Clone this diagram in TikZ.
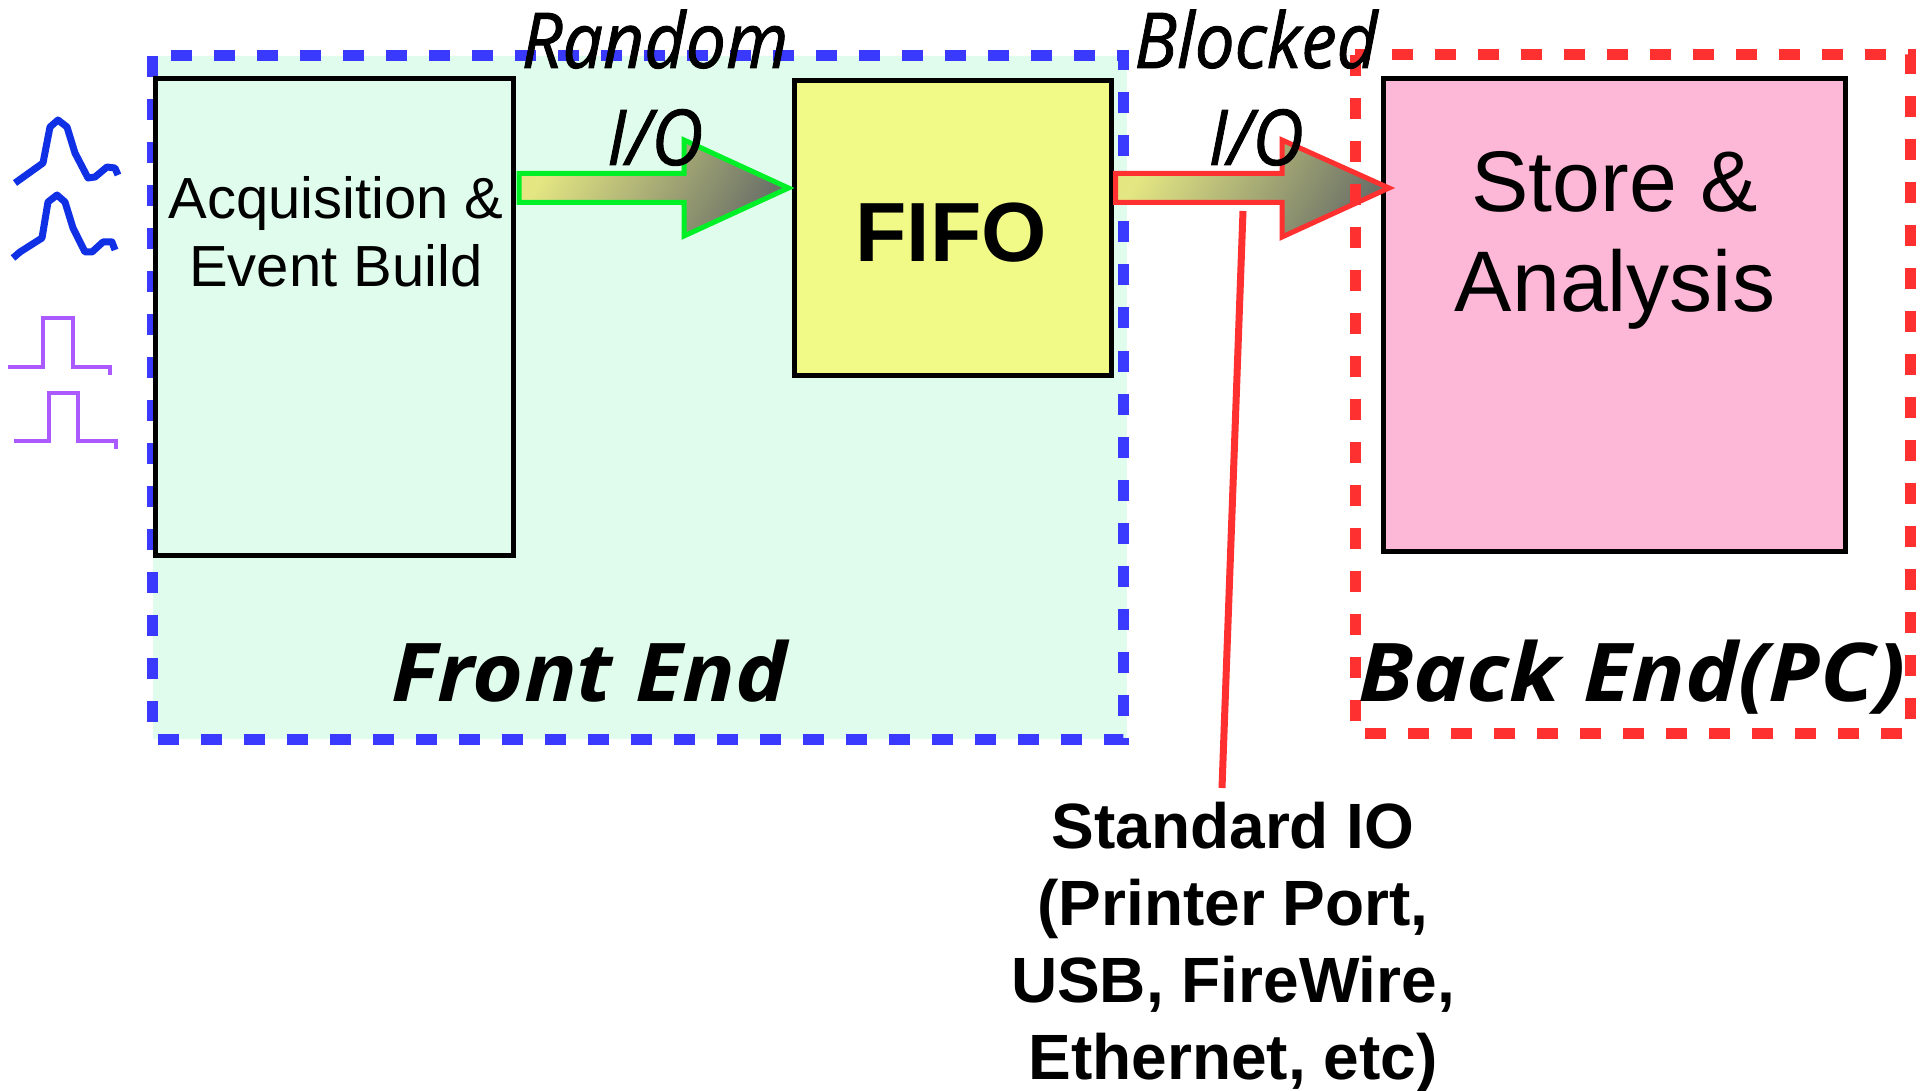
\documentclass[tikz,border=0pt]{standalone}
\usepackage{fontspec}
\usetikzlibrary{calc}
\setmainfont{Liberation Sans}
\newfontfamily\gillit{Open Sans}[UprightFont=*-Italic, FakeBold=1.2]
\newfontfamily\gillbi{Open Sans}[UprightFont=*-Bold Italic]
\definecolor{feBg}{RGB}{224,252,236}
\definecolor{feBlue}{RGB}{58,58,255}
\definecolor{beRed}{RGB}{255,48,48}
\definecolor{fifoY}{RGB}{241,250,134}
\definecolor{pinkS}{RGB}{253,184,216}
\definecolor{arrL}{RGB}{228,230,130}
\definecolor{arrD}{RGB}{108,114,104}
\definecolor{gOut}{RGB}{0,240,40}
\definecolor{waveB}{RGB}{16,48,230}
\definecolor{waveP}{RGB}{170,90,255}
\begin{document}
\begin{tikzpicture}[x=1pt,y=-1pt,
  box/.style={draw=black, line width=5pt, inner sep=0pt},
  region/.style={line width=11pt, dash pattern=on 21pt off 22pt},
  blockarrow/.style={line width=5pt, line join=miter, left color=arrL, right color=arrD, shading angle=60},
  txt/.style={inner sep=0pt, anchor=base, align=center},
  blueWave/.style={draw=waveB, line width=7pt, line join=round},
  pulse/.style={draw=waveP, line width=4.5pt},
  tap/.style={draw=beRed, line width=7pt}]
\useasboundingbox (0,0) rectangle (1928,1091);
\fill[white] (0,0) rectangle (1928,1091);

% front end region
\fill[feBg] (152.5,56) rectangle (1127,739);
\draw[region, draw=feBlue] (152.5,56) rectangle (1123,739);

% boxes
\node[box, fill=feBg, minimum width=358pt, minimum height=476pt] (acq) at (334.5,317) {};
\node[box, fill=fifoY, minimum width=317pt, minimum height=294pt] (fifo) at (952.5,228) {};
\node[box, fill=pinkS, minimum width=462pt, minimum height=472pt] (store) at (1614,315) {};

% signals
\draw[blueWave] (15,183) -- (22,178) -- (43,163) -- (50,127) -- (58,120) -- (67,127) -- (75,153) -- (88,178) -- (95,177) -- (107,167) -- (115,168) -- (118,175);
\draw[blueWave] (13,258) -- (20,252) -- (42,238) -- (48,202) -- (57,195) -- (65,202) -- (73,228) -- (85,252) -- (92,252) -- (103,242) -- (112,242) -- (115,250);
\draw[pulse] (8,367) -- (43,367) -- (43,318) -- (73,318) -- (73,367) -- (110,367) -- (110,375);
\draw[pulse] (14,441) -- (49,441) -- (49,393) -- (78,393) -- (78,441) -- (116,441) -- (116,449);

% block arrows
\coordinate (g0) at (acq.east |- 0,188);
\coordinate (gT) at (fifo.west |- 0,188);
\path[blockarrow, draw=gOut] ($(g0)+(3,-14.5)$) -- (684,173.5) -- (684,140) -- ($(gT)+(-3,0)$) -- (684,236) -- (684,202.5) -- ($(g0)+(3,14.5)$) -- cycle;

\coordinate (r0) at (fifo.east |- 0,188);
\coordinate (rT) at (1389,188);
\path[blockarrow, draw=beRed] ($(r0)+(2,-14.5)$) -- (1282,173.5) -- (1282,140) -- (rT) -- (1282,237) -- (1282,202.5) -- ($(r0)+(2,14.5)$) -- cycle;

% back end region
\draw[region, draw=beRed] (1355,55) rectangle (1910,733);

% tap line
\coordinate (tapA) at (1243,211);
\coordinate (tapB) at (1222,788);
\draw[tap] (tapA) -- (tapB);

% texts (anchor base = baseline of the last line)
\node[txt, font=\fontsize{58}{68}\selectfont] (acqT) at (336,287) {Acquisition \&\\Event Build};
\node[txt, font=\fontsize{84}{84}\bfseries\selectfont] (fifoT) at (951,262) {FIFO};
\node[txt, font=\fontsize{86}{100}\selectfont] (storeT) at (1615,312) {Store \&\\Analysis};
\node[txt, font=\fontsize{77}{97}\gillit\selectfont] (randT) at (655,165) {\scalebox{0.93}[1]{Random}\\\scalebox{0.93}[1]{I/O}};
\node[txt, font=\fontsize{77}{97}\gillit\selectfont] (blockT) at (1256,165) {\scalebox{0.92}[1]{Blocked}\\\scalebox{0.92}[1]{I/O}};
\node[txt, font=\fontsize{81}{81}\gillbi\selectfont] (feT) at (589.5,701) {\scalebox{1.08}[1]{Front End}};
\node[txt, font=\fontsize{81}{81}\gillbi\selectfont] (beT) at (1632,701) {\scalebox{1.1}[1]{Back End(PC)}};
\node[txt, font=\fontsize{64}{77}\bfseries\selectfont] (stdT) at (1233,1079) {Standard IO\\(Printer Port,\\USB, FireWire,\\Ethernet, etc)};
\end{tikzpicture}
\end{document}
